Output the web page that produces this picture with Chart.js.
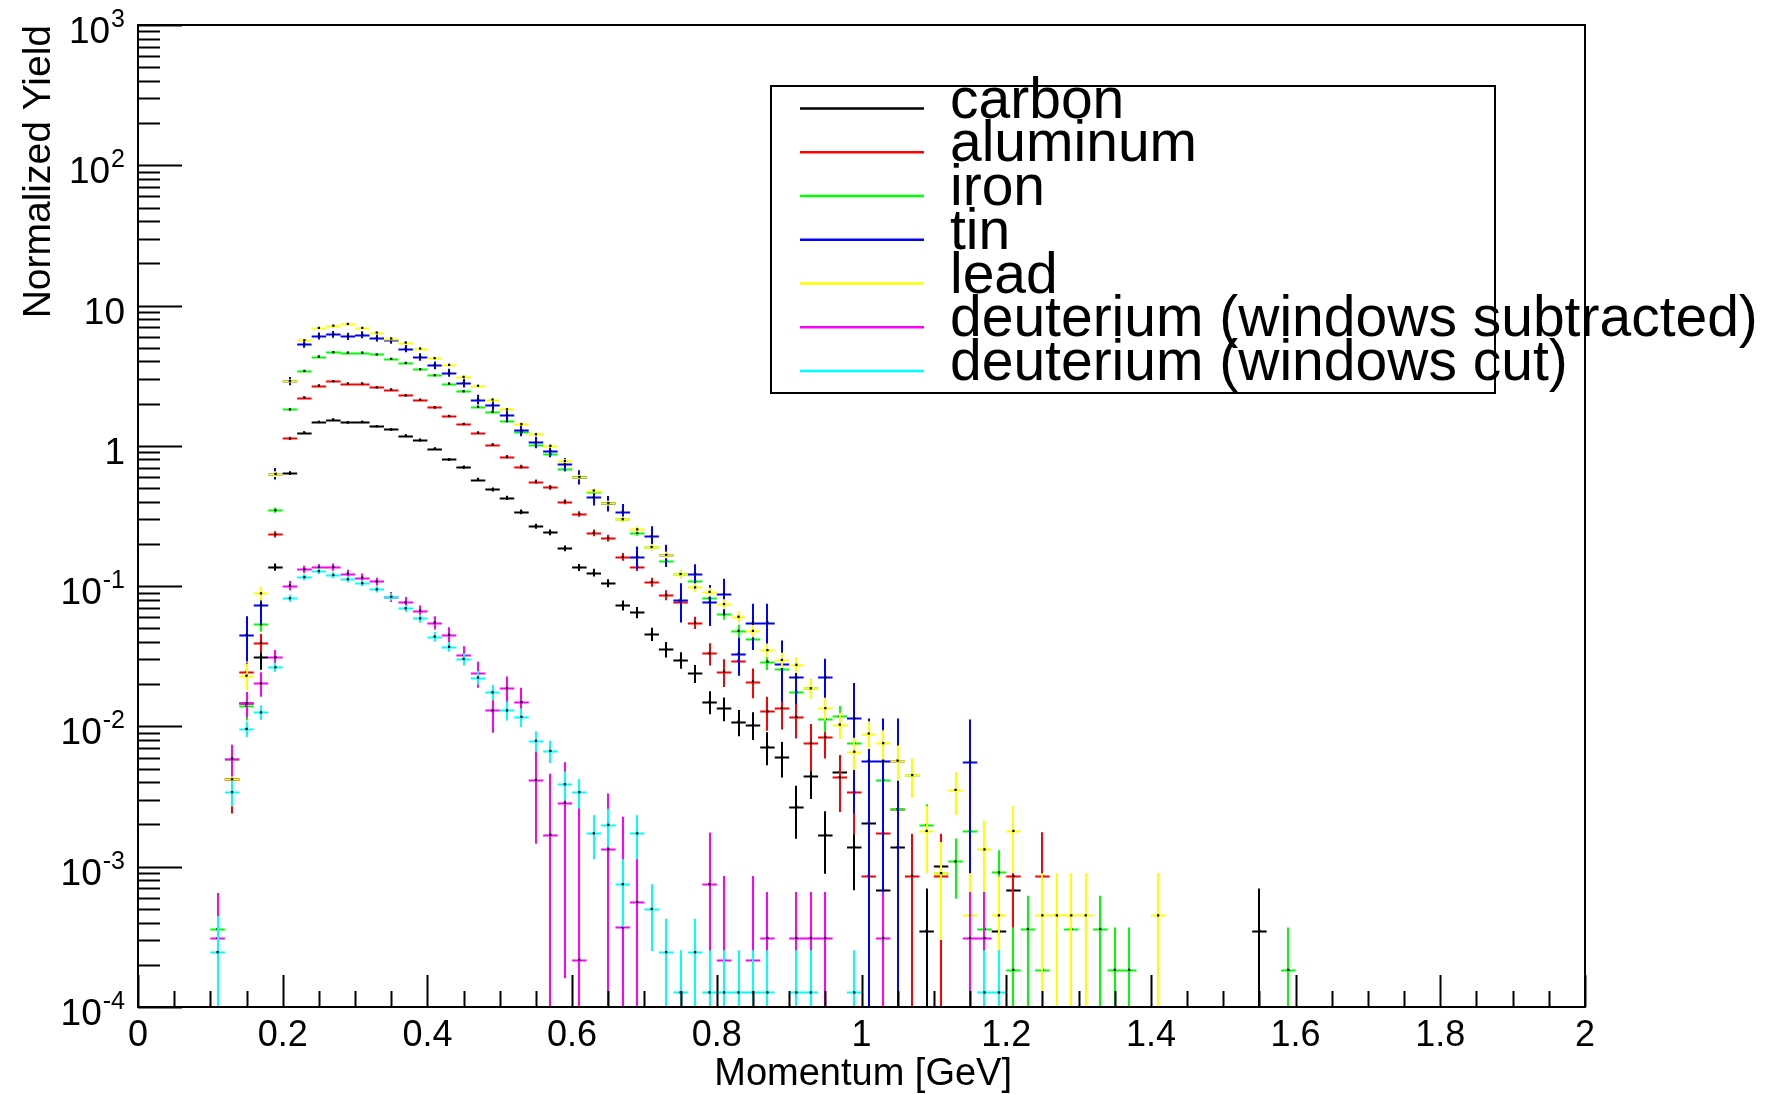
<!DOCTYPE html>
<html>
<head>
<meta charset="utf-8">
<title>Normalized Yield vs Momentum</title>
<script src="https://cdn.jsdelivr.net/npm/chart.js@4.4.1/dist/chart.umd.min.js"></script>
<style>
  html, body { margin: 0; padding: 0; background: #fff; }
  #wrap { width: 1780px; height: 1094px; }
</style>
</head>
<body>
<div id="wrap"><canvas id="yields" width="1780" height="1094"></canvas></div>
<script>
// bin centres (GeV), bins are 0.02 wide
const momentum = [
  0.11, 0.13, 0.15, 0.17, 0.19, 0.21, 0.23, 0.25, 0.27, 0.29,
  0.31, 0.33, 0.35, 0.37, 0.39, 0.41, 0.43, 0.45, 0.47, 0.49,
  0.51, 0.53, 0.55, 0.57, 0.59, 0.61, 0.63, 0.65, 0.67, 0.69,
  0.71, 0.73, 0.75, 0.77, 0.79, 0.81, 0.83, 0.85, 0.87, 0.89,
  0.91, 0.93, 0.95, 0.97, 0.99, 1.01, 1.03, 1.05, 1.07, 1.09,
  1.11, 1.13, 1.15, 1.17, 1.19, 1.21, 1.23, 1.25, 1.27, 1.29,
  1.31, 1.33, 1.35, 1.37, 1.39, 1.41, 1.43, 1.45, 1.47, 1.49,
  1.51, 1.53, 1.55, 1.57, 1.59
];
const binHalfWidth = 0.01;

const carbon = [
  null, 0.0042, 0.0146, 0.0314, 0.137, 0.64, 1.24, 1.48, 1.54, 1.47,
  1.48, 1.38, 1.31, 1.18, 1.10, 0.952, 0.80, 0.705, 0.575, 0.489,
  0.426, 0.339, 0.268, 0.242, 0.186, 0.136, 0.125, 0.105, 0.073, 0.065,
  0.0456, 0.0355, 0.0298, 0.0239, 0.0150, 0.0135, 0.0108, 0.0103, 0.00718, 0.00603,
  0.00268, 0.00444, 0.00169, 0.00476, 0.00138, 0.00206, 0.00068, 0.00138, null, 0.00035,
  0.00101, null, null, null, 0.00035, 0.00068, null, null, null, null,
  null, null, null, null, null, null, null, null, null, null,
  null, null, 0.00035, null, null
];
const carbonErr = [
  null, 0.001, 0.003, 0.006, 0.008, 0.02, 0.03, 0.03, 0.03, 0.03,
  0.03, 0.03, 0.03, 0.03, 0.03, 0.025, 0.02, 0.02, 0.018, 0.016,
  0.015, 0.013, 0.011, 0.011, 0.009, 0.008, 0.008, 0.007, 0.006, 0.006,
  0.005, 0.0045, 0.004, 0.0035, 0.0028, 0.0026, 0.0023, 0.0023, 0.0019, 0.0017,
  0.0011, 0.0014, 0.0008, 0.0015, 0.0007, 0.0009, 0.00048, 0.0007, null, 0.00035,
  0.0006, null, null, null, 0.00035, 0.00048, null, null, null, null,
  null, null, null, null, null, null, null, null, null, null,
  null, null, 0.00035, null, null
];

const aluminum = [
  null, 0.0042, 0.0245, 0.0395, 0.234, 1.13, 2.21, 2.69, 2.89, 2.78,
  2.78, 2.61, 2.52, 2.29, 2.13, 1.88, 1.63, 1.43, 1.24, 1.02,
  0.835, 0.71, 0.555, 0.506, 0.40, 0.327, 0.24, 0.22, 0.162, 0.137,
  0.107, 0.0864, 0.0775, 0.055, 0.0332, 0.0246, 0.0294, 0.0209, 0.0128, 0.0135,
  0.0117, 0.0076, 0.0084, 0.00435, 0.0034, 0.00086, 0.00173, 0.00257, 0.00086, null,
  0.00086, null, null, null, null, 0.00086, null, 0.00086, null, null,
  null, null, null, null, null, null, null, null, null, null,
  null, null, null, null, null
];
const aluminumErr = [
  null, 0.0018, 0.004, 0.006, 0.012, 0.03, 0.05, 0.05, 0.05, 0.05,
  0.05, 0.05, 0.05, 0.045, 0.04, 0.04, 0.035, 0.03, 0.03, 0.028,
  0.025, 0.022, 0.02, 0.019, 0.017, 0.015, 0.013, 0.012, 0.01, 0.009,
  0.008, 0.007, 0.0065, 0.0055, 0.006, 0.0055, 0.005, 0.005, 0.0035, 0.004,
  0.0035, 0.0028, 0.0025, 0.0019, 0.0017, 0.00086, 0.0012, 0.0015, 0.00086, null,
  0.00086, null, null, null, null, 0.0006, null, 0.0009, null, null,
  null, null, null, null, null, null, null, null, null, null,
  null, null, null, null, null
];

const iron = [
  0.00036, 0.0059, 0.014, 0.0534, 0.348, 1.82, 3.42, 4.33, 4.65, 4.62,
  4.62, 4.48, 4.17, 3.90, 3.52, 3.19, 2.78, 2.45, 1.90, 1.75,
  1.50, 1.25, 1.02, 0.87, 0.68, 0.60, 0.47, 0.39, 0.30, 0.24,
  0.19, 0.152, 0.122, 0.108, 0.082, 0.063, 0.048, 0.042, 0.029, 0.0255,
  0.0175, 0.0187, 0.0113, 0.0118, 0.0076, null, 0.00415, 0.00257, 0.0045, 0.00199,
  0.0009, 0.00109, 0.0018, 0.00036, 0.00091, 0.000184, 0.00036, 0.000184, null, 0.00036,
  null, 0.00036, 0.000184, 0.000184, null, null, null, null, null, null,
  null, null, null, null, 0.000184
];
const ironErr = [
  0.00026, 0.0015, 0.003, 0.006, 0.015, 0.04, 0.06, 0.07, 0.07, 0.07,
  0.07, 0.07, 0.065, 0.06, 0.055, 0.05, 0.045, 0.04, 0.035, 0.035,
  0.03, 0.028, 0.025, 0.022, 0.02, 0.018, 0.016, 0.015, 0.013, 0.011,
  0.01, 0.009, 0.008, 0.0075, 0.0065, 0.0055, 0.005, 0.0045, 0.0038, 0.0035,
  0.0028, 0.003, 0.0022, 0.0022, 0.0017, null, 0.0012, 0.0009, 0.0013, 0.0008,
  0.0005, 0.0005, 0.0007, 0.00026, 0.0004, 0.000184, 0.00026, 0.000184, null, 0.00026,
  null, 0.00026, 0.000184, 0.000184, null, null, null, null, null, null,
  null, null, null, null, 0.000184
];

const tin = [
  null, null, 0.045, 0.0733, 0.635, 2.9, 5.3, 6.08, 6.25, 6.04,
  6.2, 5.88, 5.66, 4.94, 4.31, 3.76, 3.33, 2.81, 2.14, 1.95,
  1.65, 1.29, 1.06, 0.92, 0.74, 0.60, 0.43, 0.39, 0.34, 0.162,
  0.227, 0.167, 0.080, 0.123, 0.077, 0.088, 0.033, 0.055, 0.055, 0.028,
  0.0224, null, 0.0224, null, 0.0114, 0.0057, 0.0057, 0.0057, null, null,
  null, null, 0.0056, null, null, null, null, null, null, null,
  null, null, null, null, null, null, null, null, null, null,
  null, null, null, null, null
];
const tinErr = [
  null, null, 0.016, 0.02, 0.06, 0.2, 0.3, 0.35, 0.35, 0.35,
  0.35, 0.33, 0.32, 0.3, 0.27, 0.24, 0.22, 0.2, 0.17, 0.16,
  0.14, 0.12, 0.1, 0.09, 0.08, 0.07, 0.055, 0.05, 0.045, 0.03,
  0.04, 0.03, 0.025, 0.02, 0.025, 0.025, 0.01, 0.02, 0.02, 0.013,
  0.008, null, 0.008, null, 0.009, 0.0057, 0.0057, 0.0057, null, null,
  null, null, 0.0056, null, null, null, null, null, null, null,
  null, null, null, null, null, null, null, null, null, null,
  null, null, null, null, null
];

const lead = [
  null, 0.0042, 0.023, 0.0889, 0.63, 2.9, 5.66, 6.93, 7.19, 7.4,
  6.93, 6.42, 5.82, 5.45, 4.94, 4.22, 3.78, 3.1, 2.68, 2.14,
  1.82, 1.43, 1.21, 1.0, 0.78, 0.60, 0.48, 0.39, 0.30, 0.254,
  0.19, 0.167, 0.122, 0.098, 0.091, 0.0745, 0.0605, 0.048, 0.035, 0.0298,
  0.0275, 0.0187, 0.0135, 0.0103, 0.0066, 0.0089, 0.0076, 0.0057, 0.0045, 0.0018,
  0.0009, 0.00353, 0.00045, 0.00133, 0.00045, 0.0018, null, 0.00045, 0.00045, 0.00045,
  0.00045, null, null, null, null, 0.00045, null, null, null, null,
  null, null, null, null, null
];
const leadErr = [
  null, 0.0015, 0.005, 0.01, 0.03, 0.08, 0.12, 0.14, 0.14, 0.14,
  0.14, 0.13, 0.12, 0.11, 0.1, 0.09, 0.08, 0.07, 0.06, 0.05,
  0.045, 0.04, 0.035, 0.03, 0.026, 0.022, 0.019, 0.016, 0.014, 0.012,
  0.01, 0.009, 0.008, 0.007, 0.0065, 0.006, 0.0055, 0.0048, 0.004, 0.0037,
  0.0035, 0.003, 0.0025, 0.0022, 0.0017, 0.002, 0.0018, 0.0016, 0.0014, 0.0009,
  0.0006, 0.0012, 0.00045, 0.0008, 0.0004, 0.0009, null, 0.00045, 0.00045, 0.00045,
  0.00045, null, null, null, null, 0.00045, null, null, null, null,
  null, null, null, null, null
];

const deutSub = [
  0.00031, 0.0059, 0.0146, 0.0203, 0.0311, 0.101, 0.132, 0.136, 0.137, 0.123,
  0.115, 0.108, 0.084, 0.0766, 0.0668, 0.055, 0.045, 0.0323, 0.0239, 0.013,
  0.0187, 0.0149, 0.00416, 0.00169, 0.00286, 0.000217, null, 0.00133, 0.00037, 0.00056,
  null, null, null, null, 0.00075, 0.000217, null, 0.000217, 0.00031, null,
  0.00031, 0.00031, 0.00031, null, null, null, 0.00031, null, null, null,
  null, null, 0.00031, 0.00031, null, null, null, null, null, null,
  null, null, null, null, null, null, null, null, null, null,
  null, null, null, null, null
];
const deutSubErr = [
  0.00034, 0.0015, 0.003, 0.004, 0.004, 0.008, 0.008, 0.008, 0.008, 0.008,
  0.008, 0.007, 0.007, 0.007, 0.006, 0.006, 0.006, 0.005, 0.005, 0.004,
  0.004, 0.004, 0.0027, 0.0029, 0.0027, 0.0024, null, 0.002, 0.0019, 0.0017,
  null, null, null, null, 0.001, 0.00064, null, 0.00064, 0.00035, null,
  0.00035, 0.00035, 0.00035, null, null, null, 0.00035, null, null, null,
  null, null, 0.00035, 0.00035, null, null, null, null, null, null,
  null, null, null, null, null, null, null, null, null, null,
  null, null, null, null, null
];

const deutCut = [
  0.000246, 0.0034, 0.0096, 0.0126, 0.0264, 0.082, 0.116, 0.128, 0.12, 0.112,
  0.105, 0.095, 0.084, 0.0695, 0.0589, 0.0437, 0.037, 0.0303, 0.0223, 0.0175,
  0.013, 0.0117, 0.0079, 0.00669, 0.00387, 0.0034, 0.00173, 0.00199, 0.00075, 0.00173,
  0.0005, 0.000246, 0.000127, 0.000246, 0.000127, 0.000127, 0.000127, 0.000127, 0.000127, null,
  0.000127, 0.000127, null, null, 0.000127, null, null, null, null, null,
  null, null, null, 0.000127, 0.000127, null, null, null, null, null,
  null, null, null, null, null, null, null, null, null, null,
  null, null, null, null, null
];
const deutCutErr = [
  0.0002, 0.0007, 0.0012, 0.0015, 0.002, 0.005, 0.006, 0.006, 0.006, 0.006,
  0.005, 0.005, 0.005, 0.004, 0.004, 0.0035, 0.003, 0.003, 0.0025, 0.0022,
  0.002, 0.0018, 0.0013, 0.0012, 0.0009, 0.0008, 0.0006, 0.0006, 0.00038, 0.0006,
  0.00025, 0.00018, 0.000127, 0.00018, 0.000127, 0.000127, 0.000127, 0.000127, 0.000127, null,
  0.000127, 0.000127, null, null, 0.000127, null, null, null, null, null,
  null, null, null, 0.000127, 0.000127, null, null, null, null, null,
  null, null, null, null, null, null, null, null, null, null,
  null, null, null, null, null
];

const seriesNames = ["carbon", "aluminum", "iron", "tin", "lead",
  "deuterium (windows subtracted)", "deuterium (windows cut)"];
const seriesColors = ["#000000", "#ff0000", "#00ff00", "#0000ff", "#ffff00", "#ff00ff", "#00ffff"];
const seriesValues = [carbon, aluminum, iron, tin, lead, deutSub, deutCut];
const seriesErrors = [carbonErr, aluminumErr, ironErr, tinErr, leadErr, deutSubErr, deutCutErr];

const xTickLabels = ["0", "0.2", "0.4", "0.6", "0.8", "1", "1.2", "1.4", "1.6", "1.8", "2"];
const yTickValues = [1000, 100, 10, 1, 0.1, 0.01, 0.001, 0.0001];
const yTickLabels = [["10", "3"], ["10", "2"], ["10", ""], ["1", ""],
  ["10", "-1"], ["10", "-2"], ["10", "-3"], ["10", "-4"]];

const FONT = "'Liberation Sans', Arial, Helvetica, sans-serif";

// horizontal bar = bin width, vertical bar = error, drawn under the black markers
const errorBars = {
    id: 'errorBars',
    beforeDatasetDraw(chart, args) {
        const ds = chart.data.datasets[args.index];
        const xs = chart.scales.x, ys = chart.scales.y;
        const a = chart.chartArea;
        const ctx = chart.ctx;
        ctx.save();
        ctx.beginPath();
        ctx.rect(a.left, a.top, a.right - a.left, a.bottom - a.top);
        ctx.clip();
        ctx.strokeStyle = ds.barColor;
        ctx.lineWidth = 2;
        ctx.beginPath();
        ds.data.forEach(pt => {
            const px = Math.round(xs.getPixelForValue(pt.x));
            const py = Math.round(ys.getPixelForValue(pt.y)) + 0.5;
            ctx.moveTo(xs.getPixelForValue(pt.x - binHalfWidth), py);
            ctx.lineTo(xs.getPixelForValue(pt.x + binHalfWidth), py);
            const lo = Math.max(pt.y - pt.e, ys.min);
            ctx.moveTo(px, ys.getPixelForValue(pt.y + pt.e));
            ctx.lineTo(px, ys.getPixelForValue(lo));
        });
        ctx.stroke();
        ctx.restore();
    }
};

// ROOT style frame: inward ticks on left and bottom only, labels, titles, legend
const rootFrame = {
    id: 'rootFrame',
    afterDraw(chart) {
        const ctx = chart.ctx;
        const xs = chart.scales.x, ys = chart.scales.y;
        const a = chart.chartArea;
        ctx.save();

        // legend
        const lx = 771, ly = 86, lw = 724, lh = 307;
        ctx.fillStyle = "#fff";
        ctx.fillRect(lx, ly, lw, lh);
        ctx.lineWidth = 2;
        ctx.strokeStyle = "#000";
        ctx.strokeRect(lx, ly, lw, lh);
        ctx.font = "57px " + FONT;
        ctx.textAlign = "left";
        ctx.textBaseline = "alphabetic";
        seriesNames.forEach((name, i) => {
            const y = 108.5 + 43.75 * i;
            ctx.strokeStyle = seriesColors[i];
            ctx.lineWidth = 2.5;
            ctx.beginPath();
            ctx.moveTo(800, y);
            ctx.lineTo(924, y);
            ctx.stroke();
            ctx.fillStyle = "#000";
            ctx.fillText(name, 950, y + 9);
        });

        ctx.strokeStyle = "#000";
        ctx.lineWidth = 2;
        ctx.beginPath();
        // y ticks
        for (let e = -4; e <= 3; e++) {
            const py = Math.round(ys.getPixelForValue(Math.pow(10, e))) + 0.5;
            ctx.moveTo(a.left, py);
            ctx.lineTo(a.left + 44, py);
            if (e < 3) {
                for (let k = 2; k <= 9; k++) {
                    const pm = Math.round(ys.getPixelForValue(k * Math.pow(10, e))) + 0.5;
                    ctx.moveTo(a.left, pm);
                    ctx.lineTo(a.left + 22, pm);
                }
            }
        }
        // x ticks, every 0.05, major every 0.2
        for (let i = 0; i <= 40; i++) {
            const px = Math.round(xs.getPixelForValue(i * 0.05)) + 0.5;
            const len = i % 4 === 0 ? 32 : 16;
            ctx.moveTo(px, a.bottom);
            ctx.lineTo(px, a.bottom - len);
        }
        ctx.stroke();
        ctx.strokeRect(a.left, a.top, a.right - a.left, a.bottom - a.top);

        // x labels
        ctx.fillStyle = "#000";
        ctx.font = "36px " + FONT;
        ctx.textAlign = "center";
        xTickLabels.forEach(lab => {
            ctx.fillText(lab, xs.getPixelForValue(parseFloat(lab)), 1046);
        });

        // y labels with exponents
        yTickLabels.forEach((lab, i) => {
            const ty = ys.getPixelForValue(yTickValues[i]);
            const right = 125;
            ctx.textAlign = "left";
            let expW = 0;
            if (lab[1]) {
                ctx.font = "25px " + FONT;
                expW = ctx.measureText(lab[1]).width;
                ctx.fillText(lab[1], right - expW, ty + 2);
            }
            ctx.font = "37px " + FONT;
            ctx.textAlign = "right";
            ctx.fillText(lab[0], right - expW - (lab[1] ? 1 : 0), ty + 18);
        });

        // axis titles
        ctx.font = "38px " + FONT;
        ctx.textAlign = "right";
        ctx.fillText("Momentum [GeV]", 1012, 1085);
        ctx.font = "39px " + FONT;
        ctx.translate(50, 25);
        ctx.rotate(-Math.PI / 2);
        ctx.fillText("Normalized Yield", 0, 0);
        ctx.restore();
    }
};

const datasets = seriesNames.map((name, s) => ({
    label: name,
    data: momentum
        .map((p, i) => ({ x: p, y: seriesValues[s][i], e: seriesErrors[s][i] }))
        .filter(d => d.y !== null),
    barColor: seriesColors[s],
    showLine: false,
    pointStyle: 'rect',
    pointRadius: 1.6,
    pointBorderWidth: 0,
    pointBackgroundColor: '#000',
    order: seriesNames.length - s
}));

const ctx = document.getElementById('yields').getContext('2d');
const yieldChart = new Chart(ctx, {
    type: 'scatter',
    data: { datasets: datasets },
    options: {
        responsive: false,
        animation: false,
        devicePixelRatio: 1,
        layout: { padding: { left: 138, top: 25, right: 195, bottom: 87 } },
        plugins: {
            legend: { display: false },
            tooltip: { enabled: false }
        },
        scales: {
            x: { type: 'linear', min: 0, max: 2, display: false },
            y: { type: 'logarithmic', min: 0.0001, max: 1000, display: false }
        }
    },
    plugins: [errorBars, rootFrame]
});
</script>
</body>
</html>
